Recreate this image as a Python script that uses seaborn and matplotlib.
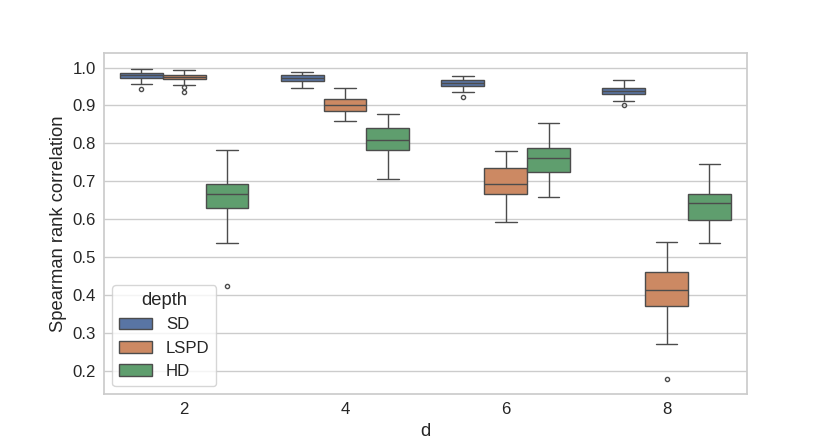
import numpy as np
import pandas as pd
import matplotlib
matplotlib.use("Agg")
import matplotlib.pyplot as plt
import seaborn as sns

d_values = [2, 4, 6, 8]
depths = ["SD", "LSPD", "HD"]

# box statistics per (depth, d)
whisker_low = {
    "SD":   [0.956, 0.946, 0.935, 0.912],
    "LSPD": [0.953, 0.860, 0.592, 0.272],
    "HD":   [0.539, 0.705, 0.660, 0.539],
}
q1 = {
    "SD":   [0.973, 0.965, 0.951, 0.930],
    "LSPD": [0.969, 0.885, 0.668, 0.373],
    "HD":   [0.629, 0.784, 0.725, 0.597],
}
median = {
    "SD":   [0.980, 0.972, 0.959, 0.938],
    "LSPD": [0.975, 0.900, 0.692, 0.415],
    "HD":   [0.666, 0.809, 0.761, 0.644],
}
q3 = {
    "SD":   [0.986, 0.979, 0.966, 0.947],
    "LSPD": [0.980, 0.917, 0.734, 0.4605],
    "HD":   [0.692, 0.840, 0.787, 0.666],
}
whisker_high = {
    "SD":   [0.997, 0.987, 0.978, 0.966],
    "LSPD": [0.994, 0.946, 0.779, 0.541],
    "HD":   [0.784, 0.877, 0.854, 0.747],
}
outliers = {
    "SD":   [[0.944], [], [0.923], [0.901]],
    "LSPD": [[0.950, 0.936], [], [], [0.180]],
    "HD":   [[0.425], [], [], []],
}

# Build a 13-point sample per box whose quartiles (indices 3, 6, 9) are exact
rows = []
for dep in depths:
    for i, d in enumerate(d_values):
        lo_out = sorted(v for v in outliers[dep][i] if v < q1[dep][i])
        hi_out = sorted(v for v in outliers[dep][i] if v > q3[dep][i])
        low_part = lo_out + [whisker_low[dep][i]] * (3 - len(lo_out))
        high_part = [whisker_high[dep][i]] * (3 - len(hi_out)) + hi_out
        sample = (low_part
                  + [q1[dep][i]] * 3
                  + [median[dep][i]] * 3
                  + [q3[dep][i]] * 3
                  + high_part)
        for v in sample:
            rows.append({"d": d, "depth": dep, "corr": v})
df = pd.DataFrame(rows)

sns.set_theme(style="whitegrid", font_scale=1.1)
plt.rcParams["font.family"] = ["Liberation Sans", "DejaVu Sans"]

fig, ax = plt.subplots(figsize=(8.3, 4.43), dpi=100)
sns.boxplot(data=df, x="d", y="corr", hue="depth", hue_order=depths,
            order=d_values, fliersize=3, ax=ax)
ax.tick_params(axis="both", length=0, pad=5.8)
ax.set_xlabel("d")
ax.set_ylabel("Spearman rank correlation")
ax.legend(title="depth", loc="lower left")
fig.savefig("out.png", dpi=100)
